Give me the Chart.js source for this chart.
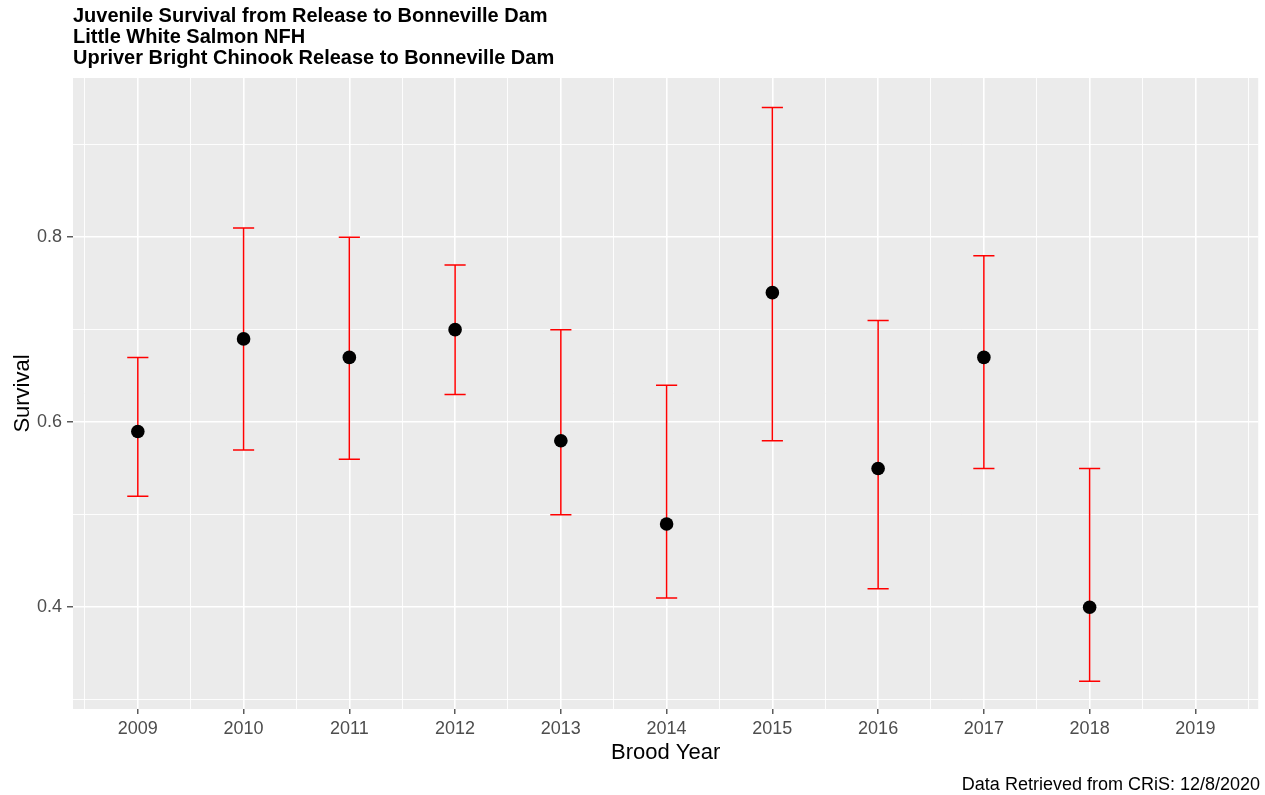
<!DOCTYPE html>
<html>
<head>
<meta charset="utf-8">
<title>Juvenile Survival from Release to Bonneville Dam</title>
<script src="https://cdn.jsdelivr.net/npm/chart.js@4.4.1/dist/chart.umd.min.js"></script>
<style>
  html, body { margin: 0; padding: 0; background: #ffffff; }
  #wrap { width: 1265px; height: 795px; }
</style>
</head>
<body>
<div id="wrap"><canvas id="chart" width="1265" height="795"></canvas></div>
<script>
// Brood-year survival estimates with confidence limits
const broodYears = [2009, 2010, 2011, 2012, 2013, 2014, 2015, 2016, 2017, 2018];
const survival   = [0.59, 0.69, 0.67, 0.70, 0.58, 0.49, 0.74, 0.55, 0.67, 0.40];
const lowerCI    = [0.52, 0.57, 0.56, 0.63, 0.50, 0.41, 0.58, 0.42, 0.55, 0.32];
const upperCI    = [0.67, 0.81, 0.80, 0.77, 0.70, 0.64, 0.94, 0.71, 0.78, 0.55];

// Axis breaks: major (labelled) and minor (grid only)
const xMajor = [2009, 2010, 2011, 2012, 2013, 2014, 2015, 2016, 2017, 2018, 2019];
const xMinor = [2008.5, 2009.5, 2010.5, 2011.5, 2012.5, 2013.5, 2014.5, 2015.5, 2016.5, 2017.5, 2018.5, 2019.5];
const yMajor = [0.4, 0.6, 0.8];
const yMinor = [0.3, 0.5, 0.7, 0.9];

const titleLines = [
  'Juvenile Survival from Release to Bonneville Dam',
  'Little White Salmon NFH',
  'Upriver Bright Chinook Release to Bonneville Dam'
];
const captionText = 'Data Retrieved from CRiS: 12/8/2020';

const FONT = '"Liberation Sans", Arial, "DejaVu Sans", sans-serif';
const ERR_WIDTH = 0.2; // cap width in years

const isMajor = (list, v) => list.some(m => Math.abs(m - v) < 1e-9);

// Grey panel behind the grid
const panelBackground = {
  id: 'panelBackground',
  beforeDraw(chart) {
    const { ctx, chartArea: a } = chart;
    ctx.save();
    ctx.fillStyle = '#EBEBEB';
    ctx.fillRect(a.left, a.top, a.right - a.left, a.bottom - a.top);
    ctx.restore();
  }
};

// Vertical error bars with caps, drawn under the points
const errorBars = {
  id: 'errorBars',
  beforeDatasetsDraw(chart) {
    const { ctx, scales: { x, y } } = chart;
    ctx.save();
    ctx.strokeStyle = '#FF0000';
    ctx.lineWidth = 1.5;
    broodYears.forEach((yr, i) => {
      const px = x.getPixelForValue(yr);
      const x0 = x.getPixelForValue(yr - ERR_WIDTH / 2);
      const x1 = x.getPixelForValue(yr + ERR_WIDTH / 2);
      const yLo = y.getPixelForValue(lowerCI[i]);
      const yHi = y.getPixelForValue(upperCI[i]);
      ctx.beginPath();
      ctx.moveTo(px, yLo); ctx.lineTo(px, yHi);
      ctx.moveTo(x0, yHi); ctx.lineTo(x1, yHi);
      ctx.moveTo(x0, yLo); ctx.lineTo(x1, yLo);
      ctx.stroke();
    });
    ctx.restore();
  }
};

// Multi-line left-aligned title and right-aligned caption
const headerFooter = {
  id: 'headerFooter',
  afterDraw(chart) {
    const { ctx } = chart;
    ctx.save();
    ctx.fillStyle = '#000000';
    ctx.textBaseline = 'middle';
    ctx.textAlign = 'left';
    ctx.font = 'bold 20px ' + FONT;
    titleLines.forEach((t, i) => ctx.fillText(t, 73, 16 + i * 21));
    ctx.textAlign = 'right';
    ctx.font = '18px ' + FONT;
    ctx.fillText(captionText, 1260, 785);
    ctx.restore();
  }
};

const chart = new Chart(document.getElementById('chart'), {
  type: 'scatter',
  data: {
    datasets: [{
      label: 'Survival',
      data: broodYears.map((yr, i) => ({ x: yr, y: survival[i] })),
      pointRadius: 6.8,
      pointHoverRadius: 6.8,
      pointBackgroundColor: '#000000',
      pointBorderWidth: 0,
      pointBorderColor: '#000000'
    }]
  },
  options: {
    responsive: false,
    animation: false,
    devicePixelRatio: 1,
    layout: { padding: { top: 78, right: 4, left: 0, bottom: 0 } },
    plugins: {
      legend: { display: false },
      tooltip: { enabled: false },
      title: { display: false }
    },
    scales: {
      x: {
        type: 'linear',
        min: 2008.387,
        max: 2019.594,
        afterBuildTicks(scale) {
          scale.ticks = [...xMinor, ...xMajor].sort((a, b) => a - b).map(v => ({ value: v }));
        },
        afterFit(scale) { scale.height = 86; },
        border: { display: false },
        grid: {
          color: '#FFFFFF',
          lineWidth: ctx => isMajor(xMajor, ctx.tick.value) ? 1.6 : 0.9,
          drawTicks: true,
          tickLength: 5,
          tickWidth: 1.2,
          tickColor: ctx => isMajor(xMajor, ctx.tick.value) ? '#333333' : 'rgba(0,0,0,0)'
        },
        ticks: {
          autoSkip: false,
          maxRotation: 0,
          minRotation: 0,
          padding: 4,
          color: '#4D4D4D',
          font: { family: FONT, size: 18 },
          callback: v => isMajor(xMajor, v) ? String(Math.round(v)) : ''
        },
        title: {
          display: true,
          text: 'Brood Year',
          color: '#000000',
          font: { family: FONT, size: 22 },
          padding: { top: 0, bottom: 29 }
        }
      },
      y: {
        type: 'linear',
        min: 0.290,
        max: 0.972,
        afterBuildTicks(scale) {
          scale.ticks = [...yMinor, ...yMajor].sort((a, b) => a - b).map(v => ({ value: v }));
        },
        afterFit(scale) { scale.width = 73; },
        border: { display: false },
        grid: {
          color: '#FFFFFF',
          lineWidth: ctx => isMajor(yMajor, ctx.tick.value) ? 1.6 : 0.9,
          drawTicks: true,
          tickLength: 6,
          tickWidth: 1.2,
          tickColor: ctx => isMajor(yMajor, ctx.tick.value) ? '#333333' : 'rgba(0,0,0,0)'
        },
        ticks: {
          autoSkip: false,
          padding: 5,
          color: '#4D4D4D',
          font: { family: FONT, size: 18 },
          callback: v => isMajor(yMajor, v) ? v.toFixed(1) : ''
        },
        title: {
          display: true,
          text: 'Survival',
          color: '#000000',
          font: { family: FONT, size: 22 },
          padding: { top: 10, bottom: 0 }
        }
      }
    }
  },
  plugins: [panelBackground, errorBars, headerFooter]
});
</script>
</body>
</html>
